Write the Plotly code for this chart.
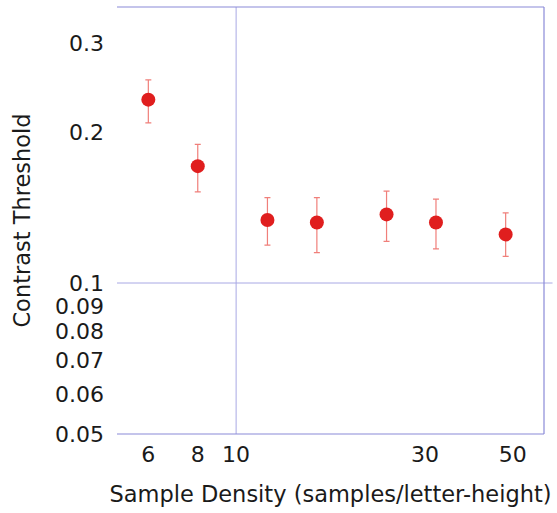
import plotly.graph_objects as go
import numpy as np

# Data
sample_density = [6, 8, 12, 16, 24, 32, 48]
contrast_threshold = [0.232, 0.171, 0.1335, 0.132, 0.137, 0.132, 0.125]
err_upper = [0.254, 0.189, 0.148, 0.148, 0.1525, 0.147, 0.138]
err_lower = [0.2085, 0.152, 0.119, 0.115, 0.121, 0.117, 0.113]

x_ticks = [6, 8, 10, 30, 50]
x_tick_labels = ["6", "8", "10", "30", "50"]
y_ticks = [0.05, 0.06, 0.07, 0.08, 0.09, 0.1, 0.2, 0.3]
y_tick_labels = ["0.05", "0.06", "0.07", "0.08", "0.09", "0.1", "0.2", "0.3"]
x_grid = [10]
y_grid = [0.1]

x_range = [5, 60]
y_range = [0.05, 0.355]

plus = [u - c for u, c in zip(err_upper, contrast_threshold)]
minus = [c - l for c, l in zip(contrast_threshold, err_lower)]

FONT = "DejaVu Sans"
LINE = "#8a8ad8"
GRID = "#a8a8e4"
TXT = "#1a1a1a"

fig = go.Figure()
fig.add_trace(go.Scatter(
    x=sample_density, y=contrast_threshold, mode="markers",
    marker=dict(size=14, color="#e01e1e", line=dict(width=0)),
    error_y=dict(type="data", symmetric=False, array=plus, arrayminus=minus,
                 color="#f07f7a", thickness=1.2, width=3),
    showlegend=False,
))

shapes = []
for xv in x_grid:
    shapes.append(dict(type="line", xref="x", yref="paper", x0=xv, x1=xv, y0=0, y1=1,
                       line=dict(color=GRID, width=1), layer="below"))
for yv in y_grid:
    shapes.append(dict(type="line", xref="paper", yref="y", x0=0, x1=1.02, y0=yv, y1=yv,
                       line=dict(color=GRID, width=1), layer="below"))
# frame: top, right, bottom
shapes.append(dict(type="line", xref="paper", yref="paper", x0=0, x1=1, y0=1, y1=1, line=dict(color=LINE, width=1.2)))
shapes.append(dict(type="line", xref="paper", yref="paper", x0=1, x1=1, y0=0, y1=1, line=dict(color=LINE, width=1.2)))
shapes.append(dict(type="line", xref="paper", yref="paper", x0=0, x1=1, y0=0, y1=0, line=dict(color=LINE, width=1.2)))

fig.update_layout(
    width=557, height=513,
    margin=dict(l=117, r=13, t=7, b=79),
    paper_bgcolor="white", plot_bgcolor="white",
    font=dict(family=FONT, color=TXT),
    shapes=shapes,
    xaxis=dict(type="log", range=[np.log10(x_range[0]), np.log10(x_range[1])],
               tickvals=x_ticks, ticktext=x_tick_labels, showgrid=False, zeroline=False,
               showline=False, ticks="", ticklabelstandoff=5,
               tickfont=dict(size=22, family=FONT, color=TXT),
               title=dict(text="Sample Density (samples/letter-height)",
                          font=dict(size=22.5, family=FONT, color=TXT), standoff=20)),
    yaxis=dict(type="log", range=[np.log10(y_range[0]), np.log10(y_range[1])],
               tickvals=y_ticks, ticktext=y_tick_labels, showgrid=False, zeroline=False,
               showline=False, ticks="", ticklabelstandoff=12,
               tickfont=dict(size=22, family=FONT, color=TXT),
               title=dict(text="Contrast Threshold",
                          font=dict(size=22.5, family=FONT, color=TXT), standoff=18)),
)

fig.write_html("out.html")
